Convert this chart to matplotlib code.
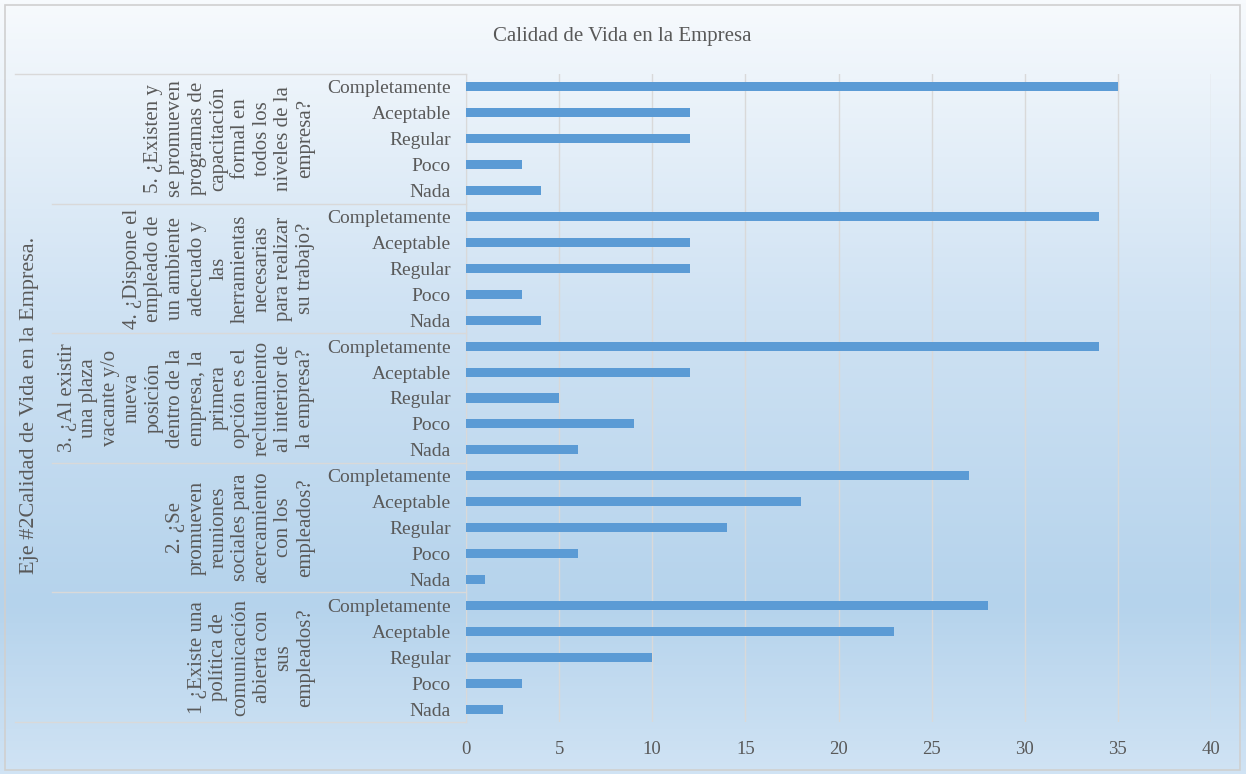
import numpy as np
import matplotlib
matplotlib.use('Agg')
import matplotlib.pyplot as plt
from matplotlib.colors import LinearSegmentedColormap
from matplotlib.transforms import blended_transform_factory
from matplotlib.patches import Rectangle

plt.rcParams['font.family'] = ['Liberation Serif', 'DejaVu Serif']

TITLE = 'Calidad de Vida en la Empresa'
AXIS_LABEL = 'Eje #2Calidad de Vida en la Empresa.'
ANSWERS = ['Completamente', 'Aceptable', 'Regular', 'Poco', 'Nada']

# questions from top to bottom, as drawn
QUESTIONS = [
    '5. ¿Existen y\nse promueven\nprogramas de\ncapacitación\nformal en\ntodos los\nniveles de la\nempresa?',
    '4. ¿Dispone el\nempleado de\nun ambiente\nadecuado y\nlas\nherramientas\nnecesarias\npara realizar\nsu trabajo?',
    '3. ¿Al existir\nuna plaza\nvacante y/o\nnueva\nposición\ndentro de la\nempresa, la\nprimera\nopción es el\nreclutamiento\nal interior de\nla empresa?',
    '2. ¿Se\npromueven\nreuniones\nsociales para\nacercamiento\ncon los\nempleados?',
    '1 ¿Existe una\npolítica de\ncomunicación\nabierta con\nsus\nempleados?',
]

# values per question, in ANSWERS order
Q5 = [35, 12, 12, 3, 4]
Q4 = [34, 12, 12, 3, 4]
Q3 = [34, 12, 5, 9, 6]
Q2 = [27, 18, 14, 6, 1]
Q1 = [28, 23, 10, 3, 2]

XTICKS = [0, 5, 10, 15, 20, 25, 30, 35, 40]

BAR = '#5B9BD5'
TXT = '#595959'
GRID = '#D9D9D9'

W, H = 1246, 774
fig = plt.figure(figsize=(W / 100, H / 100), dpi=100)

# gradient background
bg = fig.add_axes([0, 0, 1, 1], zorder=-10)
cmap = LinearSegmentedColormap.from_list('bg', [(0.0, '#F7FAFD'), (0.4, '#CFE2F3'),
                                                 (0.78, '#B5D3EC'), (1.0, '#D0E3F4')])
bg.imshow(np.linspace(0, 1, 256).reshape(-1, 1), aspect='auto', cmap=cmap,
          extent=[0, 1, 0, 1], origin='upper')
bg.set_axis_off()
fig.patches.append(Rectangle((5 / W, 4 / H), 1 - 11 / W, 1 - 9 / H, transform=fig.transFigure,
                             fill=False, edgecolor='#D0D0D0', lw=1.2))

ax = fig.add_axes([466 / W, 1 - 722 / H, (1211 - 466) / W, (722 - 74) / H])
ax.set_facecolor('none')

values = Q5 + Q4 + Q3 + Q2 + Q1
labels = ANSWERS * len(QUESTIONS)
y = np.arange(len(values))
ax.barh(y, values, height=0.35, color=BAR, zorder=3)
ax.set_ylim(len(values) - 0.5, -0.5)
ax.set_xlim(XTICKS[0], XTICKS[-1])
ax.set_xticks(XTICKS)
ax.set_yticks(y)
ax.set_yticklabels(labels, fontsize=14, color=TXT)
ax.tick_params(axis='y', length=0, pad=11)
ax.tick_params(axis='x', length=0, pad=14, labelsize=13.5, labelcolor=TXT)
ax.grid(axis='x', color=GRID, lw=1, zorder=0)
for s in ['top', 'right', 'bottom']:
    ax.spines[s].set_visible(False)
ax.spines['left'].set_color(GRID)

fig.text(622 / W, 1 - 36 / H, TITLE, ha='center', va='center', fontsize=15, color=TXT)

# multi-level category lines and labels
tr = blended_transform_factory(fig.transFigure, ax.transData)
n = len(ANSWERS)
for k in range(len(QUESTIONS) + 1):
    yb = k * n - 0.5
    x0 = 15 / W if k in (0, len(QUESTIONS)) else 52 / W
    ax.plot([x0, 466 / W], [yb, yb], color=GRID, lw=1, transform=tr, clip_on=False)
for k, q in enumerate(QUESTIONS):
    yc = k * n + (n - 1) / 2
    ax.text(315 / W, yc, q, transform=tr, rotation=90, ha='right', va='center',
            multialignment='center', fontsize=15, linespacing=1.19, color=TXT)

fig.text(30 / W, 1 - 405 / H, AXIS_LABEL, rotation=90, ha='center', va='center',
         fontsize=16, color=TXT)

fig.savefig('out.png', dpi=100)
